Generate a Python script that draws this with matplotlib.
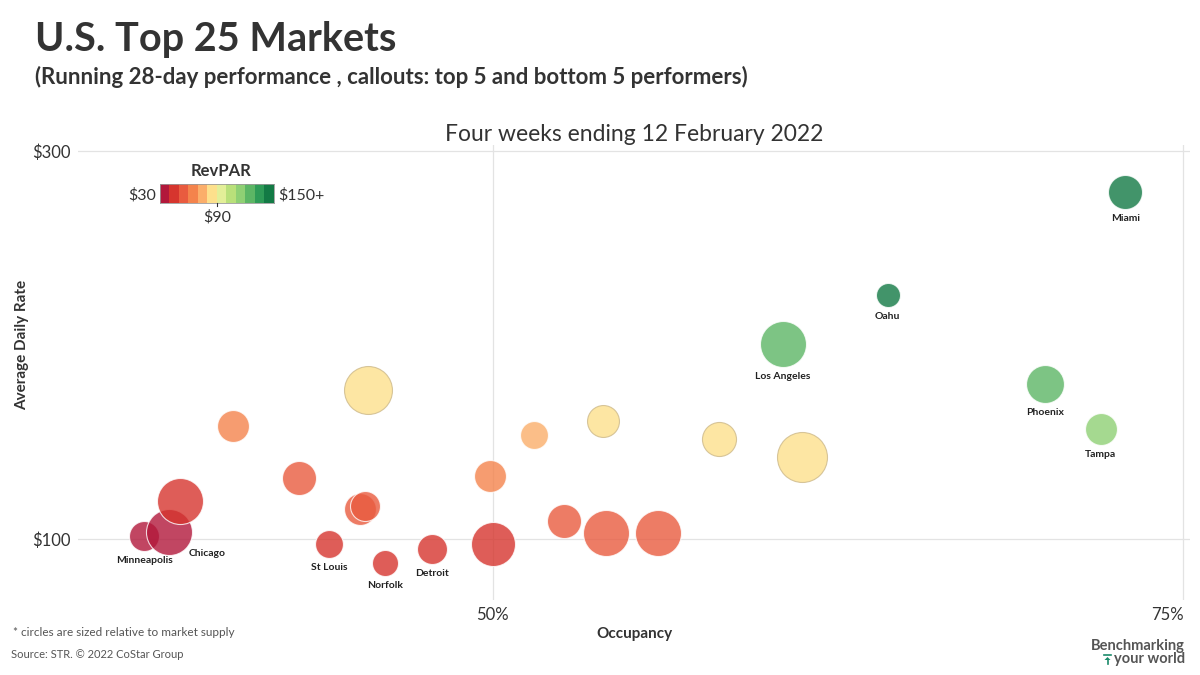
import numpy as np
import matplotlib.pyplot as plt
from matplotlib.colors import ListedColormap, Normalize

plt.switch_backend('Agg')
plt.rcParams['font.family'] = ['Lato', 'DejaVu Sans']

# DATA
markets = ['Minneapolis', 'Chicago', '', '', '', 'St Louis', 'Norfolk', 'Detroit',
           '', '', '', '', '', '', '', '', '', '', '', '',
           'Los Angeles', 'Oahu', 'Phoenix', 'Tampa', 'Miami']
occupancy = [37.4, 38.3, 38.7, 40.6, 43.0, 44.1, 46.1, 47.8,
             45.2, 45.4, 45.5, 49.9, 50.0, 51.5, 52.6, 54.0, 54.1, 56.0, 58.2, 61.2,
             60.5, 64.3, 70.0, 72.0, 72.9]
adr = [101.5, 103.6, 119.6, 158.2, 131.4, 97.4, 87.6, 94.8,
       115.5, 117.0, 176.8, 132.5, 97.4, 153.6, 109.3, 160.8, 103.1, 103.1, 151.5, 142.3,
       200.5, 225.8, 179.9, 156.7, 278.9]
supply_k = [45, 106, 106, 51, 58, 39, 34, 45,
            51, 45, 115, 51, 97, 39, 58, 51, 106, 106, 58, 125,
            106, 29, 72, 51, 58]

revpar = [o / 100 * a for o, a in zip(occupancy, adr)]

x_ticks = [50, 75]
x_tick_labels = ['50%', '75%']
y_ticks = [100, 300]
y_tick_labels = ['$100', '$300']

# 12-step RevPAR scale, $30 .. $150+
revpar_colors = ['#b2183b', '#d6352e', '#e95b3f', '#f4834c', '#fbae6a', '#fde08c',
                 '#e3ef98', '#b9e07a', '#8fd074', '#5cb665', '#2e9b57', '#137a45']
cmap = ListedColormap(revpar_colors)
norm = Normalize(30, 150, clip=True)

# label offsets in pixels (dx, dy) relative to bubble centre
label_offsets = {'Chicago': (38, -21)}

fig = plt.figure(figsize=(12, 6.75), dpi=100)
ax = fig.add_axes([0.065, 0.111, 0.927, 0.674])

dark = '#333333'

# circle radius in pixels from supply
radius_px = [np.sqrt(s / 0.2) for s in supply_k]
sizes = [(r * 2 * 0.72) ** 2 for r in radius_px]

for i in range(len(markets)):
    c = cmap(norm(revpar[i]))
    lum = 0.3 * c[0] + 0.59 * c[1] + 0.11 * c[2]
    edge = '#cdb98a' if lum > 0.8 else 'white'
    ax.scatter(occupancy[i], adr[i], s=sizes[i], color=c, alpha=0.8,
               edgecolors=edge, linewidths=0.8, zorder=3)
    if markets[i]:
        dx, dy = label_offsets.get(markets[i], (0, -(radius_px[i] + 9)))
        ax.annotate(markets[i], (occupancy[i], adr[i]),
                    xytext=(dx * 0.72, dy * 0.72), textcoords='offset points',
                    ha='center', va='center', fontsize=7.5, fontweight='bold',
                    color='#222222', zorder=4)

ax.set_xlim(35.0, 75.25)
ax.set_ylim(68.6, 303.1)
ax.set_xticks(x_ticks)
ax.set_xticklabels(x_tick_labels)
ax.set_yticks(y_ticks)
ax.set_yticklabels(y_tick_labels)
ax.tick_params(length=0, labelsize=12, labelcolor=dark, pad=5)
ax.get_xticklabels()[1].set_horizontalalignment('right')
for sp in ax.spines.values():
    sp.set_visible(False)
ax.grid(True, color='#e3e3e3', linewidth=0.9, zorder=0)
ax.set_axisbelow(True)

ax.set_xlabel('Occupancy', fontsize=11, fontweight='bold', color=dark, labelpad=3)
ax.set_ylabel('Average Daily Rate', fontsize=11, fontweight='bold', color=dark)
ax.yaxis.set_label_coords(-0.044, 0.56)

ax.set_title('Four weeks ending 12 February 2022', fontsize=16.5, color=dark, pad=1)

# headings
fig.text(35 / 1200, 1 - 40 / 675, 'U.S. Top 25 Markets', fontsize=28.5,
         fontweight='bold', color=dark, va='center')
fig.text(35 / 1200, 1 - 77 / 675,
         '(Running 28-day performance , callouts: top 5 and bottom 5 performers)',
         fontsize=16, fontweight='bold', color=dark, va='center')

# RevPAR legend
lax = fig.add_axes([160 / 1200, 1 - 203 / 675, 114 / 1200, 19 / 675])
lax.imshow(np.arange(12)[None, :], cmap=cmap, aspect='auto')
lax.set_xticks([])
lax.set_yticks([])
for sp in lax.spines.values():
    sp.set_color('#999999')
    sp.set_linewidth(0.6)
fig.text(221 / 1200, 1 - 171 / 675, 'RevPAR', fontsize=12, fontweight='bold',
         color=dark, ha='center', va='center')
fig.text(156 / 1200, 1 - 195 / 675, '$30', fontsize=11.5, color=dark,
         ha='right', va='center')
fig.text(278 / 1200, 1 - 195 / 675, '$150+', fontsize=11.5, color=dark,
         ha='left', va='center')
fig.text(217 / 1200, 1 - 217 / 675, '$90', fontsize=11.5, color=dark,
         ha='center', va='center')
fig.lines.append(plt.Line2D([217 / 1200, 217 / 1200], [1 - 203 / 675, 1 - 206 / 675],
                            transform=fig.transFigure, color='#333333', lw=0.8))

# footnotes
fig.text(13 / 1200, 1 - 632 / 675, '* circles are sized relative to market supply',
         fontsize=8.5, color='#555555', va='center')
fig.text(11 / 1200, 1 - 654 / 675, 'Source: STR. \u00a9 2022 CoStar Group',
         fontsize=8, color='#555555', va='center')

# logo text
fig.text(1185 / 1200, 1 - 646 / 675, 'Benchmarking', fontsize=10.5, fontweight='bold',
         color='#555555', ha='right', va='center')
fig.text(1185 / 1200, 1 - 659 / 675, 'your world', fontsize=10.5, fontweight='bold',
         color='#555555', ha='right', va='center')
# small teal "up to bar" arrow icon of the logo
teal = '#1a8a6a'
fig.lines.append(plt.Line2D([1104 / 1200, 1111 / 1200], [1 - 655 / 675, 1 - 655 / 675],
                            transform=fig.transFigure, color=teal, lw=1.2))
fig.patches.append(plt.Polygon([[1104.5 / 1200, 1 - 660 / 675],
                                [1110.5 / 1200, 1 - 660 / 675],
                                [1107.5 / 1200, 1 - 657 / 675]],
                               closed=True, transform=fig.transFigure,
                               color=teal, lw=0))
fig.lines.append(plt.Line2D([1107.5 / 1200, 1107.5 / 1200], [1 - 660 / 675, 1 - 664 / 675],
                            transform=fig.transFigure, color=teal, lw=1.2))

fig.savefig('out.png', dpi=100, facecolor='white')
